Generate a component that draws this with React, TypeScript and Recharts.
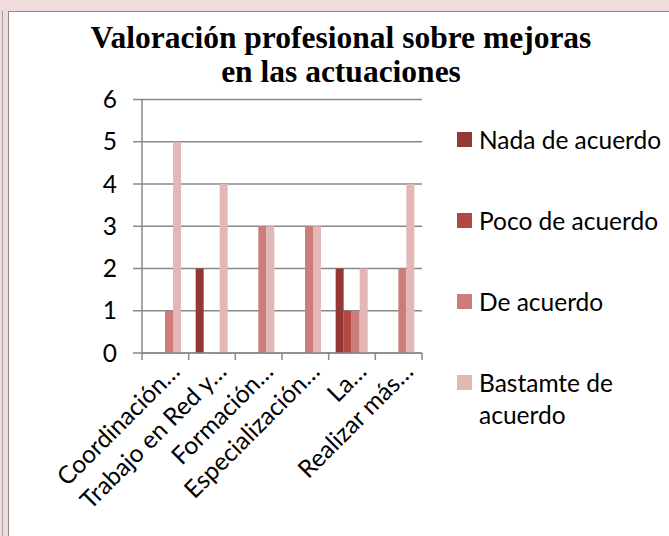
import { BarChart, Bar, XAxis, YAxis, CartesianGrid, Legend } from "recharts";

const categories = ["Coordinación…", "Trabajo en Red y…", "Formación…", "Especialización…", "La…", "Realizar más…"];
const seriesNames = ["Nada de acuerdo", "Poco de acuerdo", "De acuerdo", "Bastamte de acuerdo"];
const nadaDeAcuerdo = [0, 2, 0, 0, 2, 0];
const pocoDeAcuerdo = [0, 0, 0, 0, 1, 0];
const deAcuerdo = [1, 0, 3, 3, 1, 2];
const bastamteDeAcuerdo = [5, 4, 3, 3, 2, 4];
const yTicks = [0, 1, 2, 3, 4, 5, 6];

const data = categories.map((name, i) => ({
  name,
  nada: nadaDeAcuerdo[i],
  poco: pocoDeAcuerdo[i],
  de: deAcuerdo[i],
  bastamte: bastamteDeAcuerdo[i],
}));

const FONT = "Lato, 'Noto Sans', sans-serif";
const FS = 24.5;
const AXIS = "#888888";
const W = 669;
const H = 536;
const PLOT_LEFT = 142;
const PLOT_RIGHT = 422;

function XTick(props: any) {
  const { x, y, payload, index } = props;
  const half = payload?.offset || (PLOT_RIGHT - PLOT_LEFT) / categories.length / 2;
  const ax = x + 16;
  const ay = y + 20;
  return (
    <g>
      <line x1={x - half} x2={x - half} y1={y} y2={y + 7} stroke={AXIS} strokeWidth={1.5} />
      {index === categories.length - 1 && (
        <line x1={x + half} x2={x + half} y1={y} y2={y + 7} stroke={AXIS} strokeWidth={1.5} />
      )}
      <text
        x={ax}
        y={ay}
        textAnchor="end"
        fontSize={FS}
        fontFamily={FONT}
        fill="#000"
        transform={`rotate(-45 ${ax} ${ay})`}
      >
        {payload.value}
      </text>
    </g>
  );
}

function LegendBox(props: any) {
  const items = [...(props.payload || [])].sort(
    (a: any, b: any) => seriesNames.indexOf(a.value) - seriesNames.indexOf(b.value)
  );
  return (
    <div style={{ position: "relative", width: 213, height: 300, fontFamily: FONT, fontSize: FS }}>
      {items.map((e: any, i: number) => (
        <div key={e.value} style={{ position: "absolute", left: 0, top: i * 81, width: 213 }}>
          <div style={{ position: "absolute", left: 1, top: 0, width: 15, height: 15, background: e.color }} />
          <div style={{ position: "absolute", left: 23, top: -8.5, width: 190, lineHeight: "32px", color: "#000" }}>
            {e.value}
          </div>
        </div>
      ))}
    </div>
  );
}

export default function App() {
  return (
    <div style={{ position: "relative", width: W, height: H, overflow: "hidden", background: "#F2DCDB" }}>
      <style>{`body{margin:0}`}</style>
      <div style={{ position: "absolute", left: 2, top: 11, width: 1, height: H, background: "#A0A0A0" }} />
      <div
        style={{
          position: "absolute",
          left: 8,
          top: 11,
          width: W + 20,
          height: H + 20,
          background: "#fff",
          border: "1.5px solid #8A8A8A",
        }}
      />
      <div
        style={{
          position: "absolute",
          left: 0,
          width: 682,
          top: 21,
          textAlign: "center",
          fontFamily: "'Liberation Serif', 'Times New Roman', serif",
          fontWeight: "bold",
          fontSize: 31.5,
          lineHeight: "34px",
          color: "#000",
        }}
      >
        Valoración profesional sobre mejoras
        <br />
        en las actuaciones
      </div>
      <div style={{ position: "absolute", left: 0, top: 0 }}>
        <BarChart
          width={W}
          height={H}
          data={data}
          margin={{ top: 99.5, right: W - PLOT_RIGHT, bottom: 0, left: 0 }}
          barCategoryGap="15%"
          barGap={0}
        >
          <CartesianGrid vertical={false} stroke={AXIS} strokeWidth={1.5} />
          <XAxis
            dataKey="name"
            height={H - 353}
            interval={0}
            stroke={AXIS}
            strokeWidth={1.5}
            tickLine={false}
            tickSize={0}
            tickMargin={0}
            tick={<XTick />}
          />
          <YAxis
            width={PLOT_LEFT}
            domain={[0, 6]}
            ticks={yTicks}
            interval={0}
            stroke={AXIS}
            strokeWidth={1.5}
            tickSize={9}
            tickMargin={16}
            tick={{ fill: "#000", fontSize: FS, fontFamily: FONT }}
          />
          <Legend
            layout="horizontal"
            align="center"
            verticalAlign="middle"
            content={<LegendBox />}
            wrapperStyle={{ left: 456, top: 132, width: 213, height: 300 }}
          />
          <Bar dataKey="nada" name={seriesNames[0]} fill="#953735" isAnimationActive={false} />
          <Bar dataKey="poco" name={seriesNames[1]} fill="#B34744" isAnimationActive={false} />
          <Bar dataKey="de" name={seriesNames[2]} fill="#CD7C7A" isAnimationActive={false} />
          <Bar dataKey="bastamte" name={seriesNames[3]} fill="#E3B7B6" isAnimationActive={false} />
        </BarChart>
      </div>
    </div>
  );
}
